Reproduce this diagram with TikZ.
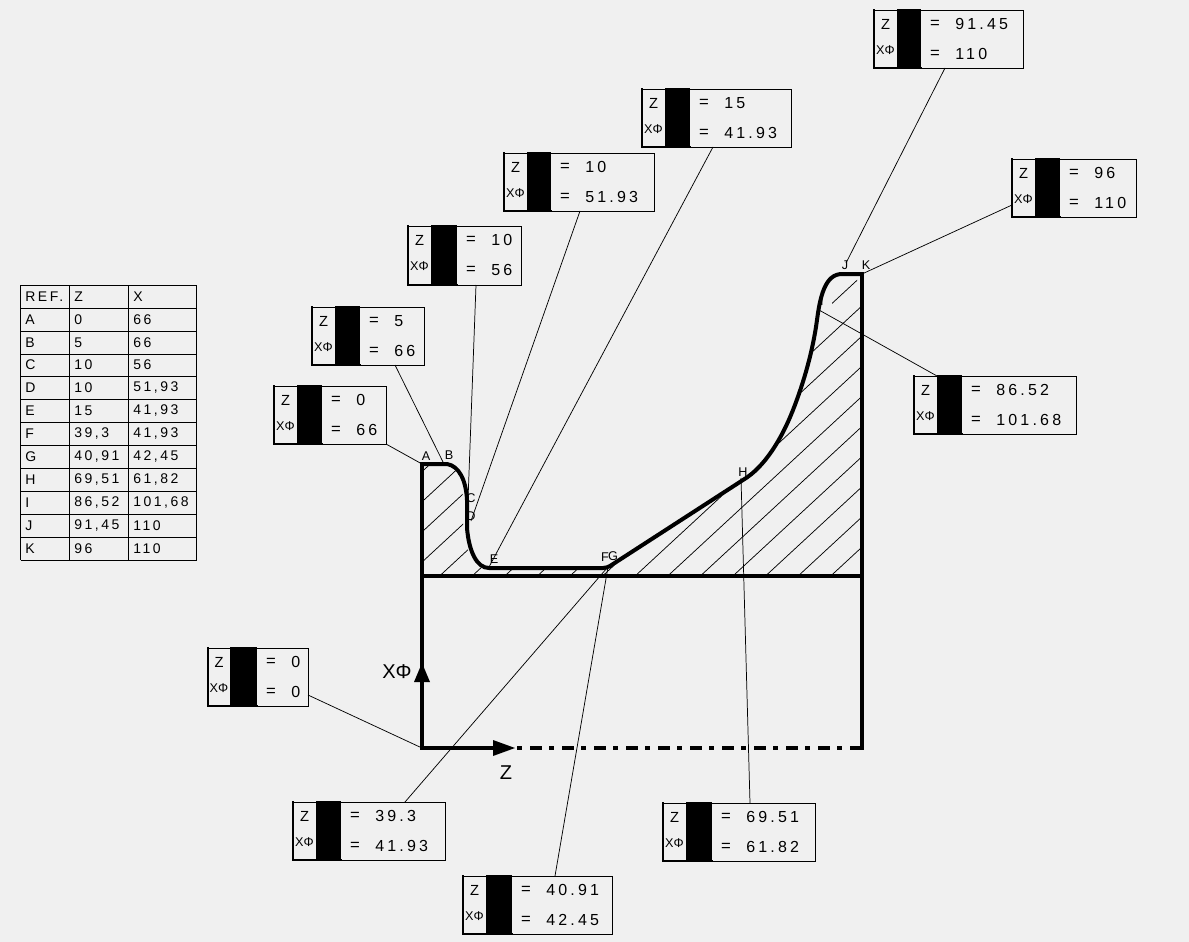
\documentclass[tikz,border=0pt]{standalone}
\usepackage{fontspec}
\setmainfont{Liberation Sans}
\newfontfamily\spaced[LetterSpace=20]{Liberation Sans}
\newfontfamily\tabspaced[LetterSpace=18]{Liberation Sans}
\usetikzlibrary{calc}
\definecolor{bg}{HTML}{F0F0F0}
\tikzset{
  x=0.75pt,y=-0.75pt,
  boxframe/.style={draw=black,line width=0.8pt,fill=bg,inner sep=0pt},
  boxedge/.style={line width=1.5pt,line cap=rect},
  leader/.style={line width=0.55pt},
  hatchline/.style={line width=0.55pt},
  profile/.style={line width=3pt,line join=round},
  structure/.style={line width=3pt,line cap=rect},
  valtext/.style={anchor=west,inner sep=0pt,font=\spaced\fontsize{12}{14}\selectfont},
  eqtext/.style={anchor=center,inner sep=0pt,font=\fontsize{12.5}{14}\selectfont},
  zlabel/.style={anchor=center,inner sep=0pt,font=\fontsize{11}{13}\selectfont},
  xlabel/.style={anchor=center,inner sep=0pt,font=\fontsize{9.5}{11}\selectfont},
  ptlabel/.style={anchor=center,inner sep=0pt,font=\fontsize{9.5}{11}\selectfont},
  tabtext/.style={anchor=west,inner sep=0pt,font=\tabspaced\fontsize{10.5}{12}\selectfont},
  tabline/.style={line width=0.7pt},
  axlabel/.style={anchor=center,inner sep=0pt,font=\fontsize{15}{17}\selectfont},
}
% name, x-left, black-left, black-right, x-right, y-top, y-bottom, value1, value2
\newcommand{\databox}[9]{%
  \node[boxframe,minimum width=#5*0.75pt-#2*0.75pt,minimum height=#7*0.75pt-#6*0.75pt,anchor=north west] (#1) at (#2,#6) {};
  \fill[black] (#3,#6-1) rectangle (#4,#7);
  \draw[boxedge] (#2,#6) -- (#2,#7) -- (#4,#7);
  \path ({(#2+#3)/2},#6+14) node[zlabel] (#1z) {Z};
  \path ({(#2+#3)/2},#6+40) node[xlabel] (#1x) {XΦ};
  \path (#4+14,#6+14) node[eqtext] (#1ea) {=};
  \path (#4+14,#6+44) node[eqtext] (#1eb) {=};
  \path (#4+34,#6+14) node[valtext] (#1va) {#8};
  \path (#4+34,#6+44) node[valtext] (#1vb) {#9};
}
\begin{document}
\begin{tikzpicture}
\useasboundingbox (0,0) rectangle (1189,942);
\fill[bg] (0,0) rectangle (1189,942);

% hatching, clipped to the section
\begin{scope}
\clip (424,466) -- (447,466) .. controls (459,468) and (462,482) .. (463,500)
  -- (463,528) .. controls (465,552) and (476,570) .. (489,570) -- (607,570)
  -- (745,481) -- (767,461) -- (780,440) -- (793,413) -- (803,388) -- (812,353) -- (816,330)
  -- (832,312) -- (832,295) -- (857,275) -- (857,295) -- (860,295) -- (860,574) -- (424,574) -- cycle;
\foreach \k in {0,...,17} {
  \draw[hatchline] (400,{862+30.15*\k-0.925*400}) -- (880,{862+30.15*\k-0.925*880});
}
\end{scope}

% profile points
\coordinate (pA) at (422,464);
\coordinate (pB) at (444,464);
\coordinate (pC) at (468,500);
\coordinate (pD) at (471,521);
\coordinate (pE) at (489,567);
\coordinate (pF) at (607,568);
\coordinate (pG) at (608,567);
\coordinate (pH) at (741,478);
\coordinate (pI) at (819,310);
\coordinate (pJ) at (846,263);
\coordinate (pK) at (862,274);
\coordinate (pO) at (422,748);
\coordinate (pZ) at (862,748);
\coordinate (pL) at (422,576);
\coordinate (pR) at (862,576);

% structure
\draw[structure] (pA) -- (pO) -- (504,748);
\draw[structure] (pL) -- (pR);
\draw[structure] (pK) -- (pZ);
\draw[line width=3pt,dash pattern=on 9pt off 5.25pt on 3.75pt off 6pt,dash phase=12.75pt] (515,748) -- (pZ);
\draw[profile] (pA) -- (447,464) .. controls (459,466) and (466,480) .. (467,500)
  -- (467,528) .. controls (469,552) and (477,568) .. (489,568) -- (603,568)
  .. controls (606,568) and (608,567) .. (610,566) -- (743,480)
  .. controls (765,467) and (782,438) .. (793,410)
  .. controls (804,382) and (813,350) .. (817,320)
  .. controls (820,297) and (825,274) .. (842,274)
  -- (pK);
\fill[black] (414,682) -- (422,663) -- (430,682) -- cycle;
\fill[black] (493,740) -- (515,748) -- (493,756) -- cycle;
\node[axlabel] (axx) at (397,672) {XΦ};
\node[axlabel] (axz) at (506,773) {Z};

% point labels
\foreach \n/\lx/\ly/\t in {A/426/456/A,B/449/455/B,C/471/498/C,D/471/516/D,E/494/559/E,F/605/557/F,G/613/556/G,H/743/472/H,I/822/301/I,J/845/265/J,K/866/265/K}
  \node[ptlabel] (lab\n) at (\lx,\ly) {\t};

% data boxes
\databox{bJ}{874}{897}{921}{1023}{10}{68}{91.45}{110}
\databox{bK}{1012}{1035}{1060}{1136}{159}{217}{96}{110}
\databox{bE}{642}{665}{690}{791}{89}{147}{15}{41.93}
\databox{bD}{504}{527}{551}{654}{153}{211}{10}{51.93}
\databox{bC}{408}{431}{457}{521}{226}{285}{10}{56}
\databox{bB}{312}{335}{360}{424}{307}{365}{5}{66}
\databox{bA}{274}{297}{322}{386}{386}{444}{0}{66}
\databox{bI}{914}{937}{962}{1076}{376}{434}{86.52}{101.68}
\databox{bO}{208}{230}{257}{308}{648}{706}{0}{0}
\databox{bF}{293}{316}{341}{445}{802}{860}{39.3}{41.93}
\databox{bG}{463}{486}{512}{612}{876}{934}{40.91}{42.45}
\databox{bH}{663}{686}{712}{815}{803}{861}{69.51}{61.82}

% leaders
\draw[leader] (945,68) coordinate (lJ) -- (pJ);
\draw[leader] (1012,205) coordinate (lK) -- (pK);
\draw[leader] (713,147) coordinate (lE) -- (pE);
\draw[leader] (580,211) coordinate (lD) -- (pD);
\draw[leader] (476,285) coordinate (lC) -- (pC);
\draw[leader] (395,365) coordinate (lB) -- (pB);
\draw[leader] (386,444) coordinate (lA) -- (pA);
\draw[leader] (937,376) coordinate (lI) -- (pI);
\draw[leader] (308,695) coordinate (lO) -- (pO);
\draw[leader] (405,802) coordinate (lF) -- (pF);
\draw[leader] (555,876) coordinate (lG) -- (pG);
\draw[leader] (750,803) coordinate (lH) -- (pH);

% table
\foreach \yy in {285,308.3,331,354,376.7,399.3,422.3,445.3,468.3,491.3,514,537.3,560.3}
  \draw[tabline] (20.5,\yy) -- (196.7,\yy);
\foreach \xx in {20.5,69.5,128.5,196.7}
  \draw[tabline] (\xx,285) -- (\xx,560.3);
\foreach \r/\yc/\a/\b/\c in {0/297/{REF.}/Z/X,1/320/A/0/66,2/343/B/5/66,3/365/C/10/56,4/388/D/10/{51,93},5/411/E/15/{41,93},6/434/F/{39,3}/{41,93},7/457/G/{40,91}/{42,45},8/480/H/{69,51}/{61,82},9/503/I/{86,52}/{101,68},10/526/J/{91,45}/110,11/549/K/96/110} {
  \node[tabtext] (ta\r) at (25,\yc) {\a};
  \node[tabtext] (tb\r) at (74,\yc) {\b};
  \node[tabtext] (tc\r) at (133,\yc) {\c};
}
\end{tikzpicture}
\end{document}
